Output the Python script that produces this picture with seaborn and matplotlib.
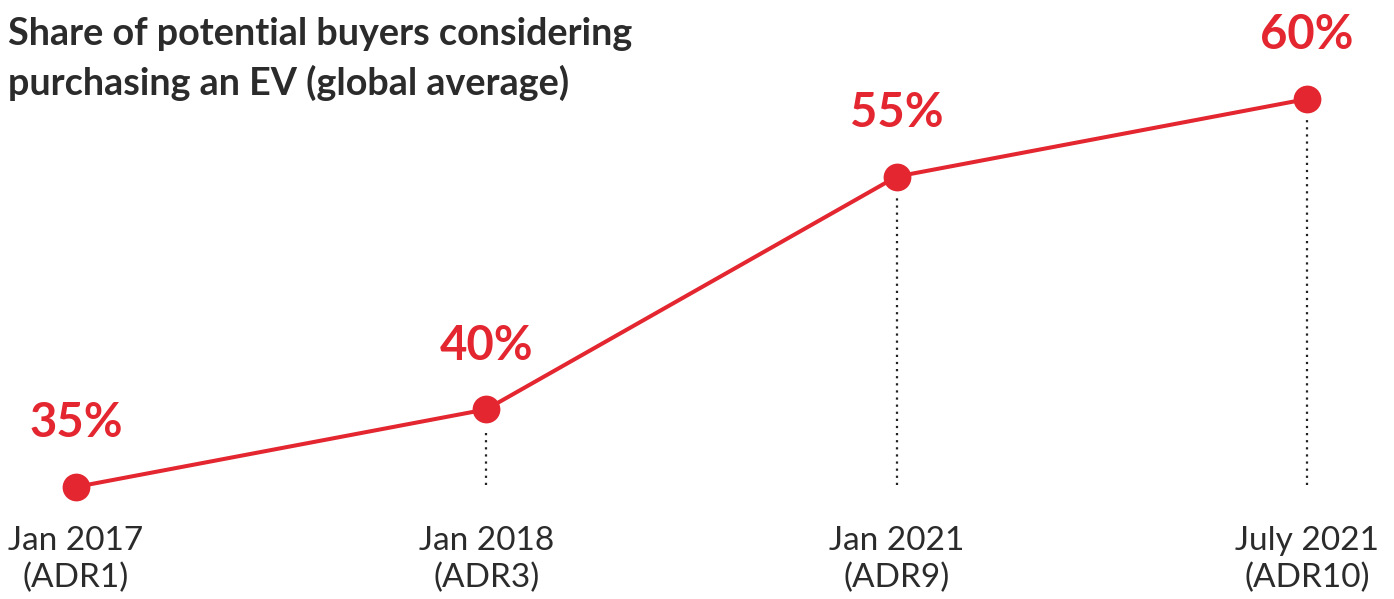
import matplotlib
matplotlib.use("Agg")
import matplotlib.pyplot as plt
import seaborn as sns
import pandas as pd

periods = ["Jan 2017\n(ADR1)", "Jan 2018\n(ADR3)", "Jan 2021\n(ADR9)", "July 2021\n(ADR10)"]
shares = [35, 40, 55, 60]
value_labels = ["35%", "40%", "55%", "60%"]
title = "Share of potential buyers considering\npurchasing an EV (global average)"

RED = "#e3262f"
DARK = "#2b2b2b"

sns.set_theme(style="white")
plt.rcParams['font.family'] = ['Lato', 'DejaVu Sans']

df = pd.DataFrame({"pos": range(len(shares)), "share": shares})

fig = plt.figure(figsize=(13.94, 5.99), dpi=100)
ax = fig.add_axes([0, 0, 1, 1])

# dotted droplines
for i, v in enumerate(shares):
    if i == 0:
        continue
    ax.plot([i, i], [35.1, v - 1.3], color="#222222", linestyle=(0, (1, 2.2)),
            linewidth=1.6, zorder=1)

sns.lineplot(data=df, x="pos", y="share", ax=ax, color=RED, linewidth=2.9,
             marker="o", markersize=20, markeredgewidth=0, zorder=3)

for i, (v, lab) in enumerate(zip(shares, value_labels)):
    ax.text(i, v + 4.1, lab, ha="center", va="center", color=RED,
            fontsize=34, fontweight="bold")
    ax.text(i, 30.3, periods[i], ha="center", va="center", color=DARK,
            fontsize=24, linespacing=1.28)

ax.text(-0.165, 65.3, title, ha="left", va="top", color=DARK, fontsize=27.2,
        fontweight="bold", linespacing=1.45)

ax.set_xlim(-0.185, 3.212)
ax.set_ylim(27.78, 66.38)
ax.axis("off")

fig.savefig("out.png", dpi=100, facecolor="white")
